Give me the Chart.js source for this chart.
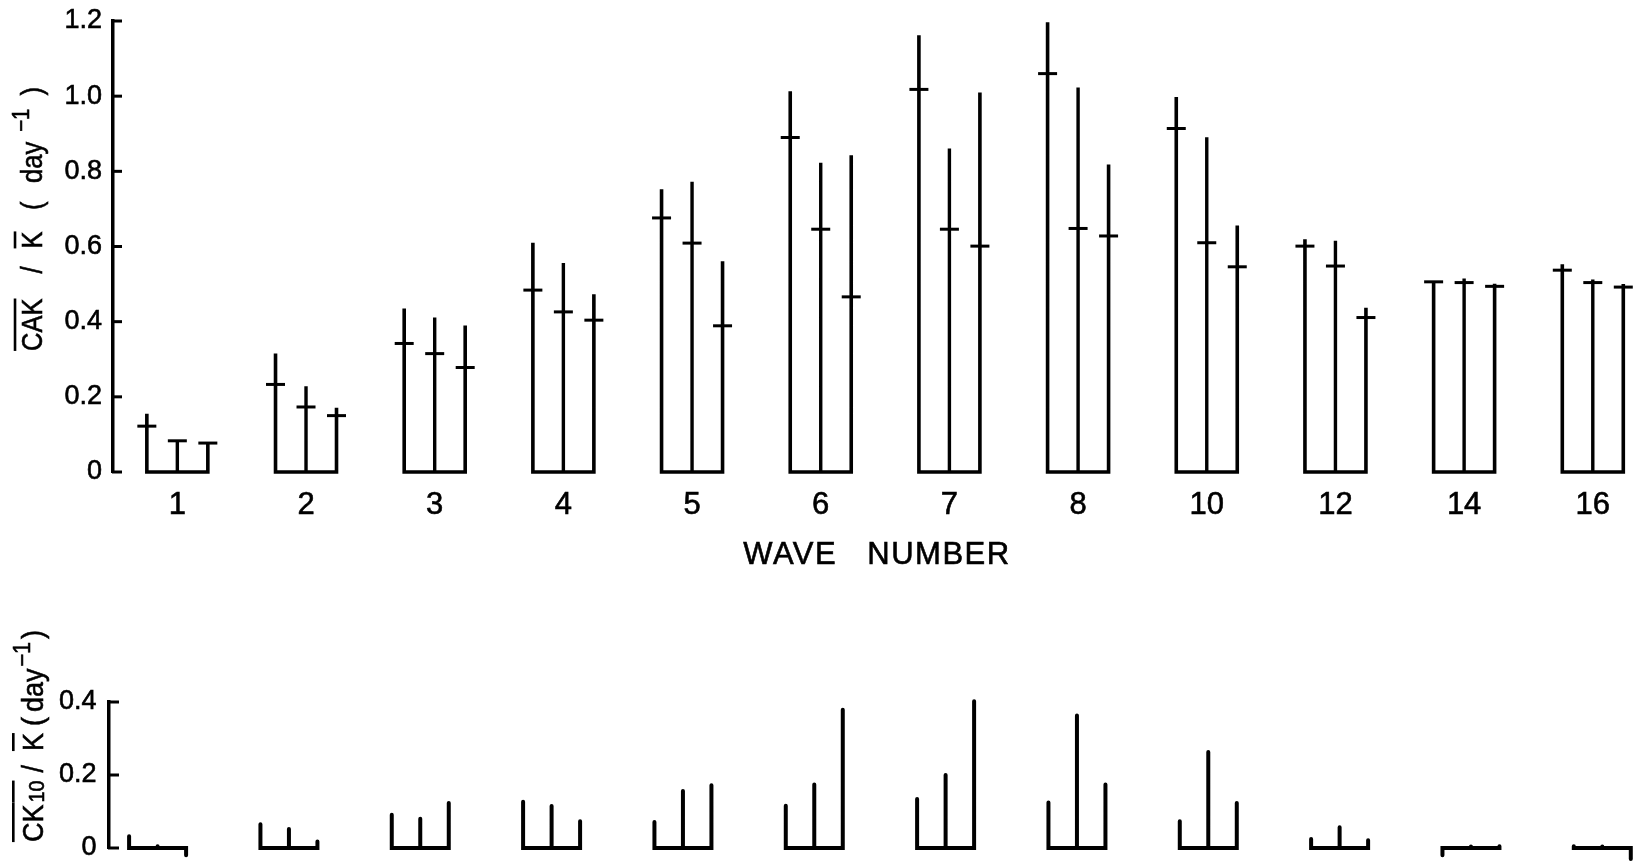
<!DOCTYPE html>
<html>
<head>
<meta charset="utf-8">
<script src="https://cdn.jsdelivr.net/npm/chart.js@4.4.1/dist/chart.umd.min.js"></script>
<style>
  html, body { margin: 0; padding: 0; background: #fff; overflow: hidden; }
  #wrap { position: relative; width: 1643px; height: 864px; background: #fff; }
  #cakChart { position: absolute; left: 0; top: 0; }
  #ckChart { position: absolute; left: 0; top: 600px; }
</style>
</head>
<body>
<div id="wrap">
  <canvas id="cakChart" width="1643" height="600"></canvas>
  <canvas id="ckChart" width="1643" height="264"></canvas>
</div>
<script>
// Wave numbers along the horizontal axis
const waveNumbers = ['1', '2', '3', '4', '5', '6', '7', '8', '10', '12', '14', '16'];

// Upper panel: CAK / K (day^-1), three cases per wave number
// upper end of each stem
const cakUpperA = [0.155, 0.315, 0.435, 0.610, 0.752, 1.013, 1.162, 1.197, 0.998, 0.619, 0.506, 0.553];
const cakUpperB = [0.083, 0.228, 0.411, 0.556, 0.772, 0.823, 0.861, 1.023, 0.891, 0.615, 0.515, 0.512];
const cakUpperC = [0.077, 0.171, 0.390, 0.473, 0.561, 0.843, 1.010, 0.818, 0.656, 0.437, 0.501, 0.500];
// cross-bar marks on each stem
const cakMeanA = [0.122, 0.233, 0.342, 0.484, 0.676, 0.890, 1.018, 1.060, 0.914, 0.601, 0.506, 0.537];
const cakMeanB = [0.083, 0.173, 0.315, 0.426, 0.609, 0.646, 0.646, 0.648, 0.610, 0.548, 0.504, 0.504];
const cakMeanC = [0.077, 0.150, 0.278, 0.404, 0.389, 0.466, 0.601, 0.628, 0.546, 0.411, 0.494, 0.492];

// Lower panel: CK10 / K (day^-1)
const ck10A = [0.032, 0.065, 0.091, 0.127, 0.071, 0.116, 0.134, 0.125, 0.073, 0.025, -0.020, 0.005];
const ck10B = [0.005, 0.052, 0.080, 0.115, 0.156, 0.174, 0.200, 0.363, 0.263, 0.057, 0.004, 0.004];
const ck10C = [-0.020, 0.018, 0.123, 0.073, 0.172, 0.379, 0.402, 0.174, 0.123, 0.021, 0.005, -0.030];

// Axis ticks
const cakTicks = [0, 0.2, 0.4, 0.6, 0.8, 1.0, 1.2];
const cakTickLabels = ['0', '0.2', '0.4', '0.6', '0.8', '1.0', '1.2'];
const ckTicks = [0, 0.2, 0.4];
const ckTickLabels = ['0', '0.2', '0.4'];

const INK = '#000';
const FONT = '"Liberation Sans", Arial, sans-serif';
const TEXT_STROKE = 0.6;
Chart.defaults.font.family = FONT;
Chart.defaults.color = INK;

// Outer stems plus the joining baseline of each group: a "U" per wave number
function outerComb(left, right, spread) {
  const pts = [];
  left.forEach((v, i) => {
    pts.push({ x: i - spread, y: v }, { x: i - spread, y: 0 },
             { x: i + spread, y: 0 }, { x: i + spread, y: right[i] },
             { x: i + spread, y: null });
  });
  return pts;
}
// Middle stem of each group
function middleStems(vals) {
  const pts = [];
  vals.forEach((v, i) => { pts.push({ x: i, y: 0 }, { x: i, y: v }, { x: i, y: null }); });
  return pts;
}
// Cross-bar positions
function crossMarks(a, b, c, spread) {
  const pts = [];
  a.forEach((v, i) => {
    pts.push({ x: i - spread, y: v }, { x: i, y: b[i] }, { x: i + spread, y: c[i] });
  });
  return pts;
}

function lineSet(data, width, cap) {
  return {
    type: 'line', data, borderColor: INK, borderWidth: width, pointRadius: 0,
    spanGaps: false, tension: 0, fill: false, clip: false,
    borderCapStyle: cap, borderJoinStyle: 'miter'
  };
}

// Inward tick marks on the value axis
const innerTicks = {
  id: 'innerTicks',
  afterDatasetsDraw(chart, args, opts) {
    const ys = chart.scales.y, ctx = chart.ctx;
    ctx.save();
    ctx.strokeStyle = INK;
    ctx.lineWidth = opts.width;
    ys.ticks.forEach(t => {
      const py = ys.getPixelForValue(t.value);
      ctx.beginPath();
      ctx.moveTo(ys.right - 1, py);
      ctx.lineTo(ys.right + opts.length, py);
      ctx.stroke();
    });
    ctx.restore();
  }
};

// Rotated axis caption with overbars, super- and subscripts
function drawVerticalCaption(ctx, cfg) {
  const { parts, x: baseX, cy, size, squeeze, overGap } = cfg;
  ctx.save();
  ctx.translate(baseX, cy);
  ctx.rotate(-Math.PI / 2);
  ctx.scale(squeeze, 1);
  const fontFor = p => `${p.sup ? Math.round(size * 0.8) : p.sub ? Math.round(size * 0.72) : size}px ${FONT}`;
  let total = 0;
  const widths = parts.map(p => {
    ctx.font = fontFor(p);
    const w = ctx.measureText(p.t).width;
    total += (p.gap || 0) / squeeze + w;
    return w;
  });
  let x = -total / 2;
  ctx.fillStyle = INK;
  ctx.strokeStyle = INK;
  ctx.textAlign = 'left';
  ctx.textBaseline = 'alphabetic';
  const overY = -size * 0.716 - overGap;
  parts.forEach((p, k) => {
    x += (p.gap || 0) / squeeze;
    ctx.font = fontFor(p);
    const dy = p.sup ? -size * 0.45 : (p.sub ? size * 0.04 : 0);
    ctx.lineWidth = TEXT_STROKE;
    ctx.fillText(p.t, x, dy);
    ctx.strokeText(p.t, x, dy);
    if (p.over) {
      const next = parts[k + 1];
      const bridge = next && next.over ? (next.gap || 0) / squeeze : 0;
      ctx.lineWidth = 2.6;
      ctx.beginPath();
      ctx.moveTo(x, overY);
      ctx.lineTo(x + widths[k] + bridge, overY);
      ctx.stroke();
    }
    x += widths[k];
  });
  ctx.restore();
}

const captions = {
  id: 'captions',
  afterDraw(chart, args, opts) {
    const ctx = chart.ctx;
    if (opts.y) drawVerticalCaption(ctx, opts.y);
    if (opts.x) {
      ctx.save();
      ctx.fillStyle = INK;
      ctx.strokeStyle = INK;
      ctx.lineWidth = TEXT_STROKE;
      ctx.font = `${opts.x.size}px ${FONT}`;
      ctx.textAlign = 'center';
      ctx.textBaseline = 'alphabetic';
      ctx.letterSpacing = opts.x.letterSpacing;
      ctx.wordSpacing = opts.x.wordSpacing;
      ctx.fillText(opts.x.text, opts.x.cx, opts.x.baseline);
      ctx.strokeText(opts.x.text, opts.x.cx, opts.x.baseline);
      ctx.restore();
    }
  }
};

function valueAxis(ticks, labels, width, pad) {
  return {
    type: 'linear',
    min: ticks[0],
    max: ticks[ticks.length - 1],
    afterBuildTicks: s => { s.ticks = ticks.map(v => ({ value: v })); },
    afterFit: s => { s.width = width; s.paddingTop = 0; s.paddingBottom = 0; },
    grid: { display: true, drawOnChartArea: false, drawTicks: false },
    border: { display: true, color: INK, width: 3.5 },
    ticks: {
      font: { size: 27 }, color: INK, padding: pad,
      textStrokeColor: INK, textStrokeWidth: TEXT_STROKE,
      callback: v => { const k = ticks.indexOf(v); return k >= 0 ? labels[k] : ''; }
    }
  };
}

// ---------- upper panel ----------
const SPREAD_TOP = 0.237;
new Chart(document.getElementById('cakChart'), {
  type: 'line',
  data: {
    datasets: [
      lineSet(outerComb(cakUpperA, cakUpperC, SPREAD_TOP), 3.6, 'butt'),
      lineSet(middleStems(cakUpperB), 3.4, 'butt'),
      {
        type: 'scatter',
        data: crossMarks(cakMeanA, cakMeanB, cakMeanC, SPREAD_TOP),
        pointStyle: 'line', pointRadius: 9.5, pointHoverRadius: 9.5,
        borderColor: INK, backgroundColor: INK, pointBorderWidth: 3, borderWidth: 3,
        showLine: false, clip: false
      }
    ]
  },
  options: {
    responsive: false, animation: false, devicePixelRatio: 1,
    layout: { padding: { top: 21, right: 0, bottom: 0, left: 0 } },
    plugins: {
      legend: { display: false }, tooltip: { enabled: false },
      innerTicks: { width: 3, length: 9 },
      captions: {
        y: {
          size: 30, squeeze: 0.85, x: 42, cy: 219, overGap: 5.5,
          parts: [
            { t: 'CAK', over: true },
            { t: '/', gap: 25 },
            { t: 'K', over: true, gap: 18 },
            { t: '(', gap: 21.5 },
            { t: 'day', gap: 18.5 },
            { t: '\u22121', sup: true, gap: 10 },
            { t: ')', gap: 13 }
          ]
        },
        x: { text: 'WAVE NUMBER', size: 31, cx: 877, baseline: 564, letterSpacing: '1.5px', wordSpacing: '20px' }
      }
    },
    scales: {
      x: {
        type: 'linear', min: -0.5, max: 11.293,
        afterBuildTicks: s => { s.ticks = waveNumbers.map((_, i) => ({ value: i })); },
        afterFit: s => { s.height = 128; },
        grid: { display: false },
        border: { display: false },
        ticks: {
          font: { size: 31 }, color: INK, padding: 7, autoSkip: false, maxRotation: 0,
          textStrokeColor: INK, textStrokeWidth: TEXT_STROKE,
          callback: v => waveNumbers[v] ?? ''
        }
      },
      y: valueAxis(cakTicks, cakTickLabels, 113, 11)
    }
  },
  plugins: [innerTicks, captions]
});

// ---------- lower panel ----------
const SPREAD_LOW = 0.217;
new Chart(document.getElementById('ckChart'), {
  type: 'line',
  data: {
    datasets: [
      lineSet(outerComb(ck10A, ck10C, SPREAD_LOW), 4, 'round'),
      lineSet(middleStems(ck10B), 4, 'round')
    ]
  },
  options: {
    responsive: false, animation: false, devicePixelRatio: 1,
    layout: { padding: { top: 102, right: 0, bottom: 16, left: 0 } },
    plugins: {
      legend: { display: false }, tooltip: { enabled: false },
      innerTicks: { width: 3, length: 10 },
      captions: {
        y: {
          size: 30, squeeze: 0.9, x: 43, cy: 136, overGap: 8.2,
          parts: [
            { t: 'CK', over: true },
            { t: '10', sub: true, over: true, gap: 2 },
            { t: '/', gap: 8 },
            { t: 'K', over: true, gap: 14 },
            { t: '(', gap: 7 },
            { t: 'day', gap: 5 },
            { t: '\u22121', sup: true, gap: 2 },
            { t: ')', gap: 3 }
          ]
        }
      }
    },
    scales: {
      x: { type: 'linear', display: false, min: -0.37, max: 11.31 },
      y: valueAxis(ckTicks, ckTickLabels, 109, 12.5)
    }
  },
  plugins: [innerTicks, captions]
});
</script>
</body>
</html>
